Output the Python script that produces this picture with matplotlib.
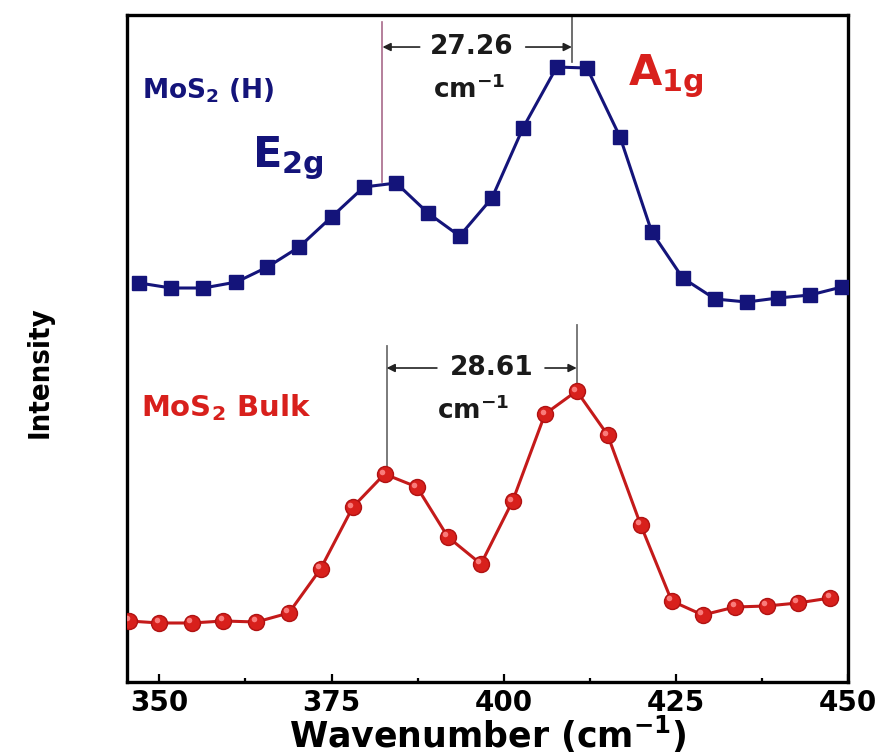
import matplotlib
matplotlib.use("Agg")
import matplotlib.pyplot as plt
from matplotlib.transforms import offset_copy
import numpy as np

# Raman spectra (arbitrary intensity units)
wn_h = [347.1, 351.7, 356.4, 361.2, 365.7, 370.3, 375.0, 379.7, 384.4, 389.0, 393.6, 398.3,
        402.8, 407.7, 412.1, 416.9, 421.5, 426.0, 430.7, 435.3, 439.8, 444.5, 449.1]
int_h = [399, 394, 394, 400, 415, 435, 465, 495, 499, 469, 446, 484,
         554, 615, 614, 545, 450, 404, 383, 380, 384, 387, 395]

wn_bulk = [345.6, 350.0, 354.7, 359.3, 364.1, 368.8, 373.4, 378.1, 382.7, 387.4, 391.9, 396.7,
           401.3, 406.0, 410.6, 415.1, 419.9, 424.4, 428.9, 433.6, 438.2, 442.7, 447.4]
int_bulk = [61, 59, 59, 61, 60, 69, 113, 175, 208, 195, 145, 118,
            181, 268, 291, 247, 157, 81, 67, 75, 76, 79, 84]

peaks_h = [382.4, 409.9]      # E2g, A1g
peaks_bulk = [383.0, 410.6]
split_labels = ["27.26", "28.61"]
xticks = [350, 375, 400, 425, 450]

navy = "#14147a"
red = "#d8201c"

plt.rcParams["font.family"] = "DejaVu Sans"
plt.rcParams["font.weight"] = "bold"
plt.rcParams["axes.labelweight"] = "bold"
plt.rcParams["mathtext.fontset"] = "dejavusans"
plt.rcParams["mathtext.default"] = "bf"

fig = plt.figure(figsize=(8.85, 7.55), dpi=100)
ax = fig.add_axes([0.1435, 0.0967, 0.8147, 0.8834])

ax.plot(wn_h, int_h, color=navy, lw=2.2, marker="s", ms=10, mfc=navy, mec=navy, zorder=3)
ax.plot(wn_bulk, int_bulk, color="#c41a1a", lw=2.2, marker="o", ms=11.5,
        mfc=red, mec="#b01212", mew=1.0, zorder=3)
# small shine on the spheres
shine = offset_copy(ax.transData, fig=fig, x=-2.5, y=2.5, units="dots")
ax.plot(wn_bulk, int_bulk, ls="none", marker="o", ms=4, mfc="#ff8c8c", mec="none",
        alpha=0.85, transform=shine, zorder=4)

ax.set_xlim(345.3, 450)
ax.set_ylim(0, 667)

# peak marker lines
ax.plot([peaks_h[0]] * 2, [500, 660], color="#a86a8a", lw=1.2, zorder=2)
ax.plot([peaks_h[1]] * 2, [620, 667], color="#555555", lw=1.2, zorder=2, clip_on=False)
ax.plot([peaks_bulk[0]] * 2, [212, 336], color="#707070", lw=1.3, zorder=2)
ax.plot([peaks_bulk[1]] * 2, [295, 357], color="#707070", lw=1.3, zorder=2)

arrow = dict(arrowstyle="-|>", color="#222222", lw=1.2, mutation_scale=12, shrinkA=0, shrinkB=0)
ax.annotate("", xy=(peaks_h[0], 635), xytext=(387.8, 635), arrowprops=arrow)
ax.annotate("", xy=(peaks_h[1], 635), xytext=(403.2, 635), arrowprops=arrow)
ax.annotate("", xy=(peaks_bulk[0], 314), xytext=(390.3, 314), arrowprops=arrow)
ax.annotate("", xy=(peaks_bulk[1], 314), xytext=(406.0, 314), arrowprops=arrow)

ax.text(395.4, 635, split_labels[0], ha="center", va="center", fontsize=19, color="#1a1a1a")
ax.text(389.7, 584, "cm$^{-1}$", ha="left", va="baseline", fontsize=19, color="#1a1a1a")
ax.text(398.3, 314, split_labels[1], ha="center", va="center", fontsize=19, color="#1a1a1a")
ax.text(390.3, 263, "cm$^{-1}$", ha="left", va="baseline", fontsize=19, color="#1a1a1a")

ax.text(347.5, 584, "MoS$_2$ (H)", ha="left", va="baseline", fontsize=19, color=navy)
ax.text(363.5, 515, "E$_{2g}$", ha="left", va="baseline", fontsize=31, color=navy)
ax.text(418.0, 597, "A$_{1g}$", ha="left", va="baseline", fontsize=31, color=red)
ax.text(347.4, 266, "MoS$_2$ Bulk", ha="left", va="baseline", fontsize=21, color=red)

ax.set_xticks(xticks)
ax.set_xticks([362.5, 387.5, 412.5, 437.5], minor=True)
ax.set_yticks([])
ax.tick_params(axis="x", which="major", direction="in", length=6, width=1.6,
               labelsize=20, pad=5, top=False)
ax.tick_params(axis="x", which="minor", direction="in", length=3, width=1.6, top=False)
for s in ax.spines.values():
    s.set_linewidth(2.4)

ax.set_xlabel("Wavenumber (cm$^{-1}$)", fontsize=25, fontweight="bold", labelpad=-2)
fig.text(0.045, 0.507, "Intensity", rotation=90, ha="center", va="center", fontsize=21,
         fontweight="bold", fontstretch="condensed",
         family=["DejaVu Sans Condensed", "Liberation Sans Narrow", "DejaVu Sans"])

fig.savefig("out.png", dpi=100)
